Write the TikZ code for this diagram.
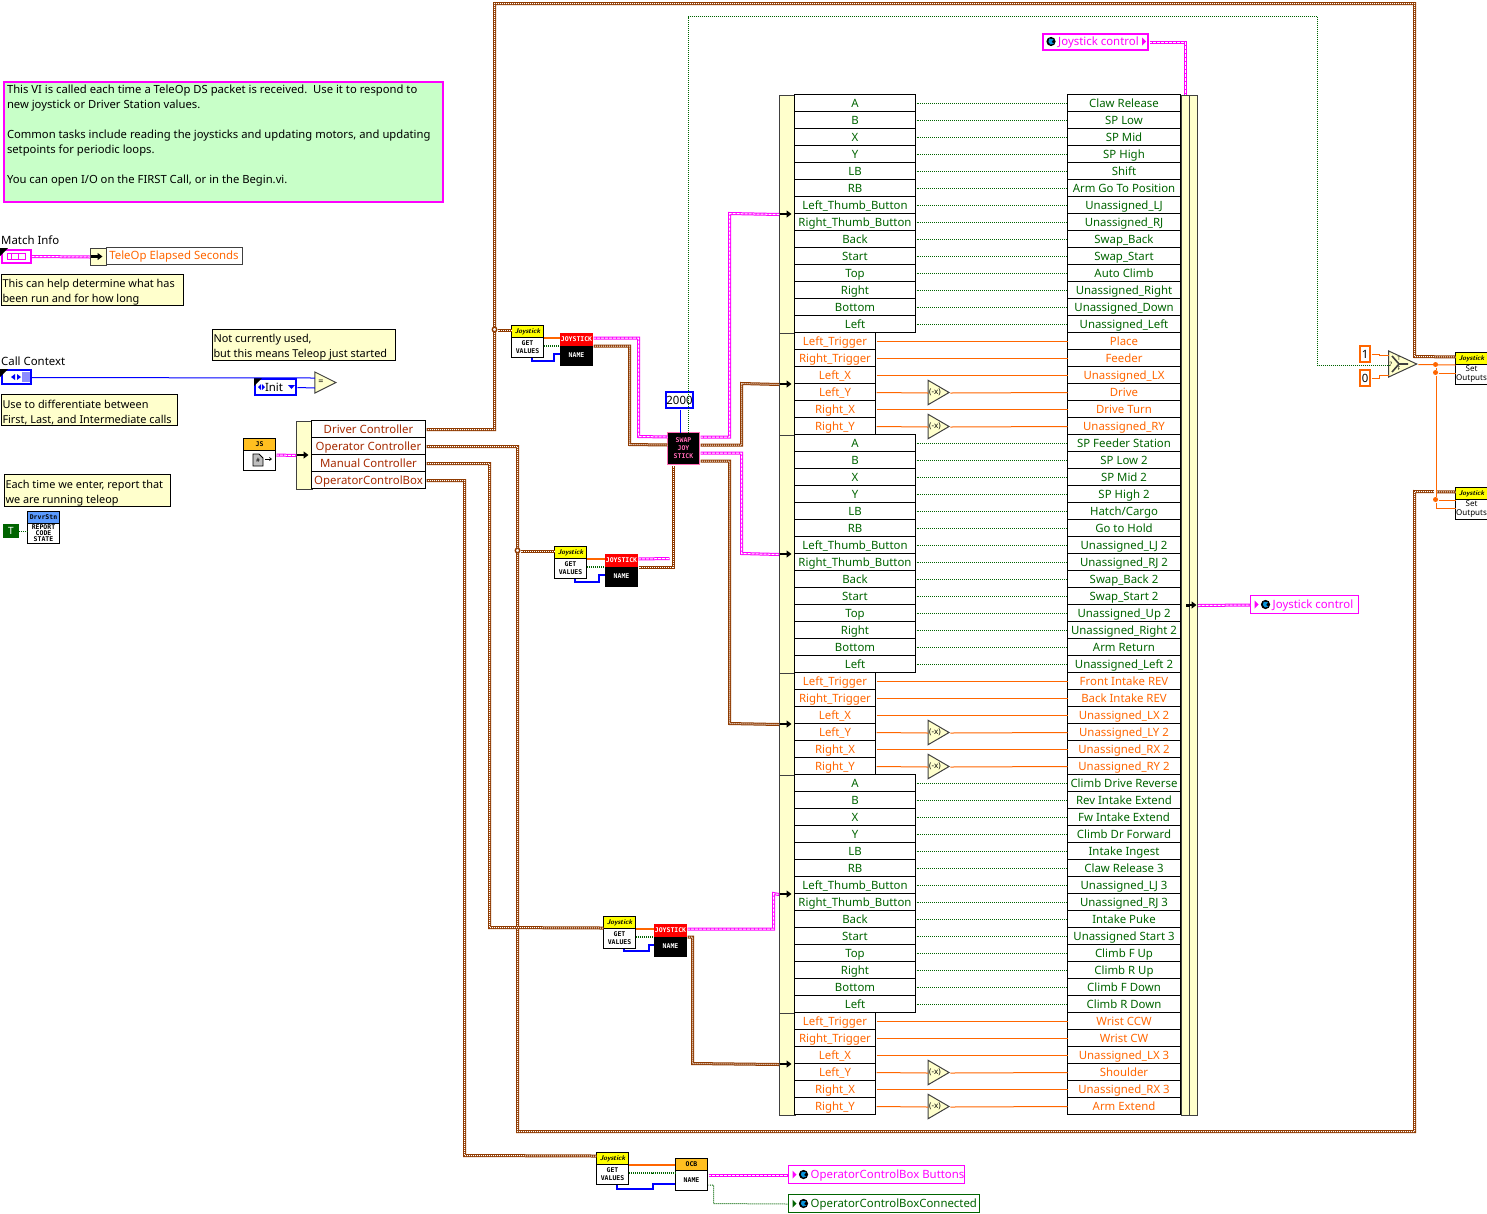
\documentclass[tikz,border=0pt]{standalone}
\usepackage{fontspec}
\setmainfont{Noto Sans}
\setmonofont{DejaVu Sans Mono}
\usetikzlibrary{shapes.geometric,arrows.meta,calc}
\definecolor{wirebrown}{HTML}{8F3A00}
\definecolor{wirepink}{HTML}{FF00FF}
\definecolor{wiregreen}{HTML}{006400}
\definecolor{wireorange}{HTML}{FF6600}
\definecolor{wireblue}{HTML}{0000FF}
\definecolor{paleyellow}{HTML}{FFFFCC}
\definecolor{notegreen}{HTML}{C8FFC8}
\definecolor{edgegrey}{HTML}{404040}
\definecolor{joyyellow}{HTML}{FFFF00}
\definecolor{goldhead}{HTML}{FFBF20}
\definecolor{drvblue}{HTML}{5B9BFF}
\definecolor{swappink}{HTML}{FF69B4}
\definecolor{clustertext}{HTML}{A52A00}
\tikzset{
  bodyfont/.style={font=\fontsize{11.4}{15}\selectfont},
  notefont/.style={font=\fontsize{10.9}{15}\selectfont},
  ongrid/.style={xshift=.5pt, yshift=-.5pt},
  wiregrid/.style={transform canvas={xshift=.5pt, yshift=-.5pt}},
  brownwire/.style={wiregrid, draw=wirebrown, line width=3pt, postaction={draw=white, line width=1pt, dash pattern=on 1pt off 1pt, dash phase=.5pt}},
  pinkwire/.style={wiregrid, draw=wirepink, line width=3pt, postaction={draw=white, line width=1pt, dash pattern=on 3pt off 1pt, dash phase=.5pt}},
  greenwire/.style={wiregrid, draw=wiregreen, line width=1pt, dash pattern=on 1pt off 1pt, dash phase=.5pt},
  greenthick/.style={draw=wiregreen, line width=2pt, dash pattern=on 1pt off 1pt},
  orangewire/.style={wiregrid, draw=wireorange, line width=1pt},
  orangethick/.style={draw=wireorange, line width=2pt},
  bluewire/.style={wiregrid, draw=wireblue, line width=1pt},
  bluethick/.style={draw=wireblue, line width=2pt},
  tipin/.style={draw=black, line width=2.4pt, -{Triangle[length=5pt,width=7pt]}},
  cell/.style={draw=black, line width=1pt, fill=white, inner sep=0pt, minimum height=17pt, text height=10.5pt, text depth=2pt, bodyfont},
  btnleft/.style={cell, minimum width=121pt, text=wiregreen},
  axisleft/.style={cell, minimum width=81pt, text=wireorange},
  btnright/.style={cell, minimum width=113pt, text=wiregreen},
  axisright/.style={cell, minimum width=113pt, text=wireorange},
  strip/.style={ongrid, draw=edgegrey, line width=1pt, fill=paleyellow, inner sep=0pt, anchor=north west},
  notebox/.style={ongrid, draw=black, line width=1pt, fill=paleyellow, anchor=north west, align=flush left, inner xsep=1.5pt, inner ysep=-1pt, notefont, execute at begin node=\rule{0pt}{14pt}},
  vibody/.style={ongrid, draw=black, line width=1pt, minimum width=32pt, minimum height=32pt, inner sep=0pt},
  vihead/.style={draw=black, line width=1pt, anchor=north, minimum width=32pt, minimum height=12pt, inner sep=0pt, font=\sffamily\bfseries\itshape\fontsize{7}{7}\selectfont},
  vitext/.style={inner sep=0pt, align=center, font=\ttfamily\bfseries\fontsize{6.5}{8}\selectfont},
  whitebody/.style={fill=white, text=black},
  blackbody/.style={fill=black, text=white},
  joyhead/.style={fill=joyyellow, text=black},
  redhead/.style={fill=red, draw=red, text=white, font=\ttfamily\bfseries\fontsize{6.5}{7}\selectfont},
  constbox/.style={fill=white, line width=2pt, inner sep=0pt, bodyfont},
  gate/.style={isosceles triangle, isosceles triangle apex angle=74, isosceles triangle stretches, shape border uses incircle=false, draw=edgegrey, line width=1pt, fill=paleyellow, inner sep=0pt, minimum width=21pt, minimum height=21pt},
  negbox/.style={gate, font=\fontsize{8}{8}\selectfont},
  joinhole/.style={circle, draw=wirebrown, line width=1.4pt, fill=white, inner sep=0pt, minimum size=4.5pt},
  joindot/.style={circle, fill=wireorange, inner sep=0pt, minimum size=5pt},
  globepic/.pic={\fill[black] (0,0) circle (4.6); \fill[cyan!80!blue] (-1.8,-2.8) -- (2.5,-2.2) -- (0.5,0.5) -- (2.8,2) -- (-0.5,3) -- (-2.6,0.5) -- cycle;}
}
\newcommand{\buttonrows}[2]{%
  \foreach \lname/\rname [count=\i from #1] in {#2}{
    \node[btnleft] (lb\i) at (855,{103+17*\i}) {\lname};
    \node[btnright] (rb\i) at (1124,{103+17*\i}) {\rname};
    \draw[greenwire] (lb\i.east) -- (rb\i.west);
  }}
\newcommand{\axisrows}[2]{%
  \foreach \lname/\rname [count=\i from #1] in {#2}{
    \node[axisleft] (lb\i) at (835,{103+17*\i}) {\lname};
    \node[axisright] (rb\i) at (1124,{103+17*\i}) {\rname};
  }}
\newcommand{\vinode}[6]{%
  \node[vibody,#3] (#1) at (#2) {};
  \node[vihead,#4] (#1head) at (#1.north) {#5};
  \node[vitext,#3,draw=none] (#1text) at ([yshift=-5.5pt]#1.center) {#6};}
\newcommand{\globalvar}[5]{%
  \node[ongrid, draw=#5, fill=white, line width=1pt, minimum width=#4pt, minimum height=18pt, inner sep=0pt, anchor=west] (#1) at (#2) {};
  \fill[#5] ([xshift=5pt,yshift=4pt]#1.west) -- ([xshift=9pt]#1.west) -- ([xshift=5pt,yshift=-4pt]#1.west) -- cycle;
  \pic at ([xshift=16pt]#1.west) {globepic};
  \node[text=#5, inner sep=0pt, anchor=west, bodyfont] (#1text) at ([xshift=23pt,yshift=-1pt]#1.west) {#3};}
\begin{document}
\begin{tikzpicture}[x=1pt,y=-1pt]
\useasboundingbox (0,0) rectangle (1487,1213);

% notes on the left
\node[draw=wirepink, line width=2pt, fill=notegreen, anchor=north west, align=flush left, inner sep=0pt, text width=439pt, minimum height=120pt, font=\fontsize{11.25}{15}\selectfont] (noteintro) at (3,81) {\hspace*{3pt}This VI is called each time a TeleOp DS packet is received.\ \ Use it to respond to\\
\hspace*{3pt}new joystick or Driver Station values.\\[15pt]
\hspace*{3pt}Common tasks include reading the joysticks and updating motors, and updating\\
\hspace*{3pt}setpoints for periodic loops.\\[15pt]
\hspace*{3pt}You can open I/O on the FIRST Call, or in the Begin.vi.\\\mbox{}};

\node[inner sep=0pt, anchor=west, bodyfont] (lblmatch) at (1,240) {Match Info};
\node[draw=wirepink, line width=2pt, fill=white, minimum width=29pt, minimum height=13pt, inner sep=0pt] (matchicon) at (16,256) {};
\fill[black] (0,248) -- (8,248) -- (0,256) -- cycle;
\draw[wirepink, line width=1pt] (7,253) rectangle (25,259) (11,253) -- (11,259) (18,253) -- (18,259);
\node[strip, minimum width=16pt, minimum height=17pt] (stripmatch) at (89,247) {};
\node[cell, anchor=west, minimum width=136pt, text=wireorange, draw=edgegrey] (elapsed) at (105.5,255.5) {TeleOp Elapsed Seconds};
\draw[pinkwire] (matchicon.east) -- (stripmatch.west);
\draw[tipin] ([xshift=1pt]stripmatch.west) -- ([xshift=-4pt]stripmatch.east);
\node[notebox, text width=179pt, minimum height=31pt] (notematch) at (0,273) {This can help determine what has\\been run and for how long};

\node[inner sep=0pt, anchor=west, bodyfont] (lblcall) at (1,361) {Call Context};
\node[draw=wireblue, line width=2pt, fill=white, minimum width=29pt, minimum height=14pt, inner sep=0pt] (callicon) at (16,377) {};
\fill[black] (0,369) -- (8,369) -- (0,377) -- cycle;
\fill[wireblue!45!white] (22,372) rectangle (30,382);
\fill[wireblue] (11,377) -- (15,374) -- (15,380) -- cycle (17,374) -- (21,377) -- (17,380) -- cycle;
\node[cell, minimum width=41pt, minimum height=16pt, draw=wireblue, line width=2pt] (initring) at (275.5,387) {Init\hspace*{3pt}};
\fill[black] (254,378) -- (262,378) -- (254,386) -- cycle;
\fill[wireblue] (258,387) -- (261,384) -- (261,390) -- cycle (262,384) -- (265,387) -- (262,390) -- cycle;
\fill[wireblue] (288,385) -- (295,385) -- (291.5,389) -- cycle;
\node[gate, font=\bfseries\fontsize{9}{9}\selectfont] (eqgate) at (321,382.5) {=};
\draw[bluewire] (callicon.east) -- ([yshift=5pt]eqgate.west);
\draw[bluewire] (initring.east) -- ([yshift=-5pt]eqgate.west);
\node[notebox, text width=180pt, minimum height=31pt] (noteinit) at (211,328) {Not currently used,\\but this means Teleop just started};
\node[notebox, text width=173pt, minimum height=31pt] (notecall) at (0,393) {Use to differentiate between\\First, Last, and Intermediate calls};
\node[notebox, text width=163pt, minimum height=32pt] (notereport) at (3,473) {Each time we enter, report that\\we are running teleop};
\node[draw=wiregreen, fill=wiregreen, text=white, minimum width=15pt, minimum height=13pt, inner sep=0pt, font=\bfseries\fontsize{10}{10}\selectfont] (trueconst) at (11,531) {T};
\vinode{reportcode}{43,527}{whitebody,font=\ttfamily\bfseries\fontsize{6.5}{6}\selectfont}{fill=drvblue,text=black,font=\ttfamily\bfseries\fontsize{6.5}{7}\selectfont}{DrvrStn}{REPORT\\CODE\\STATE}
\draw[greenwire] (trueconst.east) -- (trueconst.east -| reportcode.west);

% joystick cluster split
\node[vibody, whitebody] (jsicon) at (259,454) {};
\node[vihead, fill=goldhead, font=\ttfamily\bfseries\fontsize{6.5}{7}\selectfont] (jsiconhead) at (jsicon.north) {JS};
\draw[black, fill=lightgray, line width=0.8pt] (253,454) -- (259,454) -- (263,458) -- (263,466) -- (253,466) -- cycle;
\node[inner sep=0pt, font=\bfseries\fontsize{6}{6}\selectfont] (jsiconmark) at (258,460.5) {\#};
\draw[black, line width=0.7pt, -{Straight Barb[length=2pt,width=3pt]}] (265,459) -- (272,459);
\node[strip, minimum width=16pt, minimum height=68pt] (stripctrl) at (295,420) {};
\draw[pinkwire] (jsicon.east) -- (stripctrl.west);
\draw[tipin] ([xshift=1pt]stripctrl.west) -- ([xshift=-4pt]stripctrl.east);
\foreach \nm/\txt/\yy in {ctrlDriver/Driver Controller/429, ctrlOperator/Operator Controller/446, ctrlManual/Manual Controller/463, ctrlBox/OperatorControlBox/480}{
  \node[cell, draw=black, minimum width=114pt, text=clustertext] (\nm) at (368.5,\yy) {\txt};
}

% get values and name blocks
\vinode{getA}{527,341}{whitebody}{joyhead}{Joystick}{GET\\VALUES}
\vinode{nameA}{576,349}{blackbody}{redhead}{JOYSTICK}{NAME}
\vinode{getB}{570,562}{whitebody}{joyhead}{Joystick}{GET\\VALUES}
\vinode{nameB}{621,570}{blackbody}{redhead}{JOYSTICK}{NAME}
\vinode{getC}{619,932}{whitebody}{joyhead}{Joystick}{GET\\VALUES}
\vinode{nameC}{670,940}{blackbody}{redhead}{JOYSTICK}{NAME}
\vinode{getD}{612,1168}{whitebody}{joyhead}{Joystick}{GET\\VALUES}
\vinode{nameD}{691,1174}{whitebody}{fill=goldhead,text=black,font=\ttfamily\bfseries\fontsize{6.5}{7}\selectfont}{OCB}{NAME}
\foreach \g/\n in {getA/nameA,getB/nameB,getC/nameC}{
  \draw[orangethick] ([yshift=4pt]\g.east) -- ([yshift=12pt]\n.west);
  \draw[greenthick] ([yshift=-4pt]\g.east) -- ([yshift=4pt]\n.west);
}
\draw[bluethick] ([xshift=4pt]getA.south) |- (554,361) |- ([yshift=-4pt]nameA.west);
\draw[bluethick] ([xshift=4pt]getB.south) |- (599,582) |- ([yshift=-4pt]nameB.west);
\draw[bluethick] ([xshift=4pt]getC.south) |- (649,951) |- ([yshift=-4pt]nameC.west);
\draw[orangethick] ([yshift=4pt]getD.east) -- ([yshift=10pt]nameD.west);
\draw[greenthick] ([yshift=-4pt]getD.east) -| (653,1173) -- (nameD.west |- 0,1173);
\draw[bluethick] ([xshift=4pt]getD.south) |- (653,1189) |- ([yshift=-9pt]nameD.west);

% swap joystick
\node[ongrid, draw=swappink, line width=1pt, fill=black, text=swappink, minimum width=32pt, minimum height=32pt, inner sep=0pt, align=center, font=\ttfamily\bfseries\fontsize{6.5}{8}\selectfont] (swapjoy) at (683,448) {SWAP\\JOY\\STICK};
\node[draw=wireblue, constbox] (timeout) at (679.5,400) [minimum width=27pt, minimum height=16pt] {2000};
\draw[bluewire] (timeout.south) -- (timeout.south |- swapjoy.north);
\coordinate (stubB) at (669,558);

% big bundle
\node[strip, minimum width=16pt, minimum height=238pt] (stripA) at (778,94) {};
\node[strip, minimum width=16pt, minimum height=102pt] (stripB) at (778,332) {};
\node[strip, minimum width=16pt, minimum height=238pt] (stripC) at (778,434) {};
\node[strip, minimum width=16pt, minimum height=102pt] (stripD) at (778,672) {};
\node[strip, minimum width=16pt, minimum height=238pt] (stripE) at (778,774) {};
\node[strip, minimum width=16pt, minimum height=102pt] (stripF) at (778,1012) {};
\node[strip, minimum width=8pt, minimum height=1020pt] (bundleL) at (1180,94) {};
\node[strip, minimum width=8pt, minimum height=1020pt] (bundleR) at (1188,94) {};
\buttonrows{0}{A/Claw Release, B/SP Low, X/SP Mid, Y/SP High, LB/Shift, RB/Arm Go To Position, Left\_Thumb\_Button/Unassigned\_LJ, Right\_Thumb\_Button/Unassigned\_RJ, Back/Swap\_Back, Start/Swap\_Start, Top/Auto Climb, Right/Unassigned\_Right, Bottom/Unassigned\_Down, Left/Unassigned\_Left}
\axisrows{14}{Left\_Trigger/Place, Right\_Trigger/Feeder, Left\_X/Unassigned\_LX, Left\_Y/Drive, Right\_X/Drive Turn, Right\_Y/Unassigned\_RY}
\buttonrows{20}{A/SP Feeder Station, B/SP Low 2, X/SP Mid 2, Y/SP High 2, LB/{Hatch/Cargo}, RB/Go to Hold, Left\_Thumb\_Button/Unassigned\_LJ 2, Right\_Thumb\_Button/Unassigned\_RJ 2, Back/Swap\_Back 2, Start/Swap\_Start 2, Top/Unassigned\_Up 2, Right/Unassigned\_Right 2, Bottom/Arm Return, Left/Unassigned\_Left 2}
\axisrows{34}{Left\_Trigger/Front Intake REV, Right\_Trigger/Back Intake REV, Left\_X/Unassigned\_LX 2, Left\_Y/Unassigned\_LY 2, Right\_X/Unassigned\_RX 2, Right\_Y/Unassigned\_RY 2}
\buttonrows{40}{A/Climb Drive Reverse, B/Rev Intake Extend, X/Fw Intake Extend, Y/Climb Dr Forward, LB/Intake Ingest, RB/Claw Release 3, Left\_Thumb\_Button/Unassigned\_LJ 3, Right\_Thumb\_Button/Unassigned\_RJ 3, Back/Intake Puke, Start/Unassigned Start 3, Top/Climb F Up, Right/Climb R Up, Bottom/Climb F Down, Left/Climb R Down}
\axisrows{54}{Left\_Trigger/Wrist CCW, Right\_Trigger/Wrist CW, Left\_X/Unassigned\_LX 3, Left\_Y/Shoulder, Right\_X/Unassigned\_RX 3, Right\_Y/Arm Extend}
\foreach \i in {14,15,16,18,34,35,36,38,54,55,56,58}{
  \draw[orangewire] (lb\i.east) -- (rb\i.west);
}
\foreach \i in {17,19,37,39,57,59}{
  \node[negbox] (neg\i) at (935,{103.5+17*\i}) {(-x)};
  \draw[orangewire] (lb\i.east) -- (neg\i.west);
  \draw[orangewire] (neg\i.apex) -- (rb\i.west);
}

% wires into the bundle
\draw[pinkwire] ([yshift=12pt]nameA.east) -| (638,436) -- ([yshift=12pt]swapjoy.west);
\draw[brownwire] ([yshift=4pt]nameA.east) -| (629,444) -- ([yshift=4pt]swapjoy.west);
\draw[pinkwire] ([yshift=12pt]nameB.east) -- (stubB);
\draw[brownwire] ([yshift=4pt]nameB.east) -| ([xshift=-11pt]swapjoy.south);
\draw[pinkwire] ([yshift=12pt]swapjoy.east) -| (729,213) -- (stripA.west);
\draw[brownwire] ([yshift=4pt]swapjoy.east) -| (741,383) -- (stripB.west);
\draw[pinkwire] ([yshift=-4pt]swapjoy.east) -| (741,553) -- (stripC.west);
\draw[brownwire] ([yshift=-12pt]swapjoy.east) -| (729,723) -- (stripD.west);
\draw[pinkwire] ([yshift=12pt]nameC.east) -| (773,893) -- (stripE.west);
\draw[brownwire] ([yshift=4pt]nameC.east) -| (692,1063) -- (stripF.west);
\foreach \s in {stripA,stripB,stripC,stripD,stripE,stripF}{
  \draw[tipin] ([xshift=1pt]\s.west) -- ([xshift=-4pt]\s.east);
}
\draw[black, line width=3pt] ([xshift=1pt]bundleL.center) -- (bundleL.east);
\draw[tipin] (bundleR.west) -- ([xshift=-1pt]bundleR.east);

% global variables
\node[draw=wirepink, fill=white, line width=2pt, minimum width=105pt, minimum height=16pt, inner sep=0pt] (joyctrlin) at (1095.5,42) {};
\pic at (1051,41.5) {globepic};
\node[text=wirepink, inner sep=0pt, anchor=west, bodyfont] (joyctrlintext) at (1058,42.5) {Joystick control};
\fill[wirepink] (1142,37.5) -- (1146,41.5) -- (1142,45.5) -- cycle;
\draw[pinkwire] (joyctrlin.east) -| (bundleL.north);
\globalvar{joyctrlout}{1249,604}{Joystick control}{108}{wirepink}
\draw[pinkwire] (bundleR.east) -- (joyctrlout.west);
\globalvar{ocbbuttons}{787,1174}{OperatorControlBox Buttons}{176}{wirepink}
\globalvar{ocbconnected}{787,1203}{OperatorControlBoxConnected}{191}{wiregreen}
\draw[pinkwire] (nameD.east) -- (ocbbuttons.west);
\draw[greenwire] ([yshift=-10pt]nameD.east) -| (713,1203) -- (ocbconnected.west);

% set outputs at the far right
\vinode{setA}{1471,368}{whitebody,font=\fontsize{8}{9}\selectfont}{joyhead}{Joystick}{Set\\Outputs}
\vinode{setB}{1471,503}{whitebody,font=\fontsize{8}{9}\selectfont}{joyhead}{Joystick}{Set\\Outputs}
\node[draw=wireorange, constbox, minimum width=10pt, minimum height=16pt] (constone) at (1365,354) {1};
\node[draw=wireorange, constbox, minimum width=10pt, minimum height=16pt] (constzero) at (1365,378) {0};
\node[gate, minimum width=26pt, minimum height=28pt, isosceles triangle apex angle=50] (selector) at (1397,364) {};
\draw[edgegrey, line width=1.6pt] (1392,356) -- (1399,364) -- (1392,372) (1399,364) -- (1408,364);
\node[inner sep=0pt, font=\bfseries\fontsize{6}{6}\selectfont] (selq) at (1391,364) {?};
\node[inner sep=0pt, font=\bfseries\fontsize{5}{5}\selectfont] (selt) at (1399,359) {T};
\node[inner sep=0pt, font=\bfseries\fontsize{5}{5}\selectfont] (self) at (1399,369) {F};

% top and return wires
\draw[greenwire] ([xshift=4pt]swapjoy.north) |- (1317,16) |- ([yshift=-1pt]selector.west);
\draw[brownwire] (ctrlDriver.east) -| (494,3) -| (1414,356) -- ([yshift=12pt]setA.west);
\draw[brownwire] (ctrlOperator.east) -| (517,1131) -| (1414,491) -- ([yshift=12pt]setB.west);
\draw[brownwire] (ctrlManual.east) -| (489,927) -- ([yshift=5pt]getC.west);
\draw[brownwire] (ctrlBox.east) -| (464,1155) -- ([yshift=13pt]getD.west);
\node[joinhole] (forkA) at (494.5,329.5) {};
\node[joinhole] (forkB) at (517.5,550.5) {};
\draw[brownwire] (forkA) -- ([yshift=12pt]getA.west);
\draw[brownwire] (forkB) -- ([yshift=12pt]getB.west);
\draw[orangewire] (constone.east) -| (1379,355) -- ([yshift=9pt]selector.west);
\draw[orangewire] (constzero.east) -| (1379,375) -- ([yshift=-11pt]selector.west);
\draw[orangewire] (selector.apex) -- ([yshift=4pt]setA.west);
\node[joindot] (joinA) at (1435.5,364.5) {};
\node[joindot] (joinB) at (1435.5,372.5) {};
\node[joindot] (joinC) at (1435.5,499.5) {};
\draw[orangewire] (joinB) -- ([yshift=-4pt]setA.west);
\draw[draw=white, line width=3pt] (joinB) -- (joinC);
\draw[orangewire] (joinA) -- (joinB) -- (joinC) |- ([yshift=-4pt]setB.west);
\draw[orangewire] (joinC) -- ([yshift=4pt]setB.west);
\end{tikzpicture}
\end{document}
